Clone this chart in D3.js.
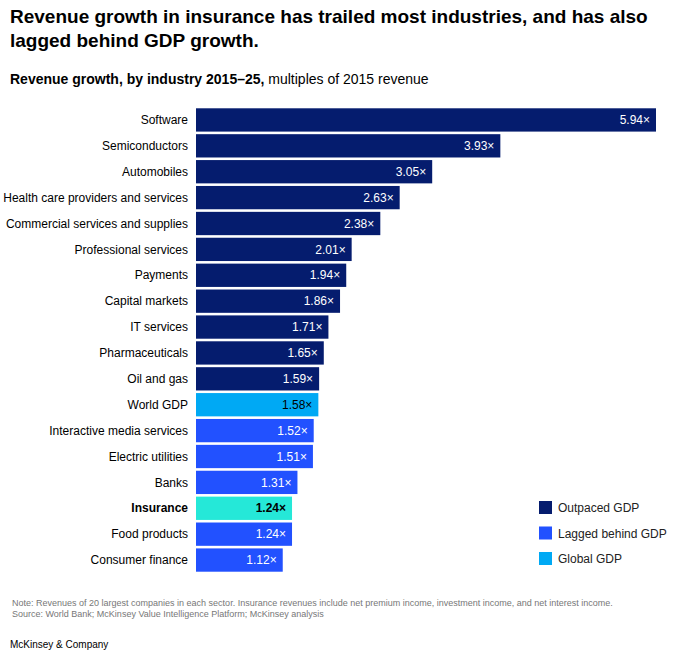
<!DOCTYPE html>
<html><head><meta charset="utf-8">
<script src="https://cdn.jsdelivr.net/npm/d3@7"></script>
<style>body{margin:0;background:#fff;font-family:"Liberation Sans",Arial,sans-serif}</style>
</head><body>
<svg id="chart" width="681" height="657"></svg>
<script>
// industries, top to bottom
var industries = ["Software","Semiconductors","Automobiles","Health care providers and services",
  "Commercial services and supplies","Professional services","Payments","Capital markets",
  "IT services","Pharmaceuticals","Oil and gas","World GDP","Interactive media services",
  "Electric utilities","Banks","Insurance","Food products","Consumer finance"];
var multiples = [5.94,3.93,3.05,2.63,2.38,2.01,1.94,1.86,1.71,1.65,1.59,1.58,1.52,1.51,1.31,1.24,1.24,1.12];
var groups = ["out","out","out","out","out","out","out","out","out","out","out","gdp","lag","lag","lag","ins","lag","lag"];
var legendLabels = ["Outpaced GDP","Lagged behind GDP","Global GDP"];

var colors = {out:"#051c6e", lag:"#2251ff", gdp:"#00a9f4", ins:"#25e8d8"};
var svg = d3.select("#chart");

var x = d3.scaleLinear().domain([0, 5.94]).range([196, 656]);
var y = d3.scaleBand().domain(industries).range([107, 573]).paddingInner(0.1).paddingOuter(0.05);

svg.append("text").attr("x",10).attr("y",23).attr("font-size",19).attr("font-weight",700).attr("fill","#000")
  .text("Revenue growth in insurance has trailed most industries, and has also");
svg.append("text").attr("x",10).attr("y",47).attr("font-size",19).attr("font-weight",700).attr("fill","#000")
  .text("lagged behind GDP growth.");
var sub = svg.append("text").attr("x",10).attr("y",84).attr("font-size",14).attr("fill","#000");
sub.append("tspan").attr("font-weight",700).text("Revenue growth, by industry 2015\u201325,");
sub.append("tspan").text(" multiples of 2015 revenue");

var rows = svg.selectAll("g.row").data(industries).enter().append("g").attr("class","row");
rows.append("rect")
  .attr("x", x(0)).attr("y", function(d){ return y(d); })
  .attr("width", function(d,i){ return x(multiples[i]) - x(0); })
  .attr("height", y.bandwidth())
  .attr("fill", function(d,i){ return colors[groups[i]]; });
rows.append("text")
  .attr("x", function(d,i){ return x(multiples[i]) - 6; })
  .attr("y", function(d){ return y(d) + y.bandwidth()/2; })
  .attr("dy","0.35em").attr("text-anchor","end").attr("font-size",12)
  .attr("font-weight", function(d,i){ return groups[i]=="ins" ? 700 : 400; })
  .attr("fill", function(d,i){ return groups[i]=="ins" || groups[i]=="gdp" ? "#000" : "#fff"; })
  .text(function(d,i){ return multiples[i].toFixed(2) + "\u00d7"; });
rows.append("text")
  .attr("x", 188)
  .attr("y", function(d){ return y(d) + y.bandwidth()/2; })
  .attr("dy","0.35em").attr("text-anchor","end").attr("font-size",12)
  .attr("font-weight", function(d){ return d=="Insurance" ? 700 : 400; })
  .attr("fill","#000").text(function(d){ return d; });

// legend
var legColors = [colors.out, colors.lag, colors.gdp];
var leg = svg.selectAll("g.leg").data(legendLabels).enter().append("g").attr("class","leg")
  .attr("transform", function(d,i){ return "translate(539," + (501 + i*25.5) + ")"; });
leg.append("rect").attr("width",13).attr("height",13).attr("fill", function(d,i){ return legColors[i]; });
leg.append("text").attr("x",19).attr("y",7).attr("dy","0.35em").attr("font-size",12).attr("fill","#222").text(function(d){ return d; });

svg.append("text").attr("x",12).attr("y",606).attr("font-size",9).attr("fill","#777")
  .text("Note: Revenues of 20 largest companies in each sector. Insurance revenues include net premium income, investment income, and net interest income.");
svg.append("text").attr("x",12).attr("y",617).attr("font-size",9).attr("fill","#777")
  .text("Source: World Bank; McKinsey Value Intelligence Platform; McKinsey analysis");
svg.append("text").attr("x",10).attr("y",648).attr("font-size",10).attr("fill","#000").text("McKinsey & Company");
</script>
</body></html>
